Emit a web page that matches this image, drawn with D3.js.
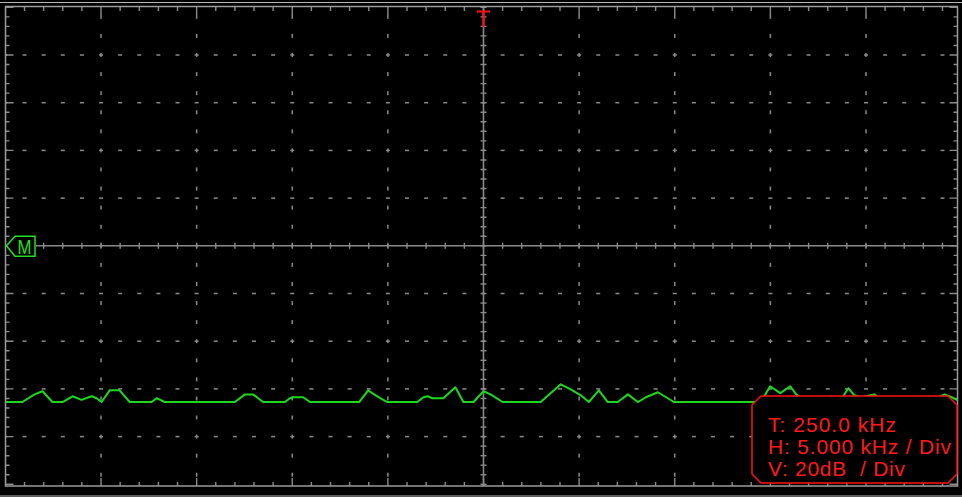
<!DOCTYPE html>
<html>
<head>
<meta charset="utf-8">
<script src="https://cdn.jsdelivr.net/npm/d3@7"></script>
<style>
  html, body { margin: 0; padding: 0; background: #000; }
  svg { display: block; }
</style>
</head>
<body>
<svg id="chart" width="962" height="497"></svg>
<script>
// ---- Data ----
const freqDomain = [225, 275];        // kHz across the screen (T 250 kHz, 5 kHz/div)
const dbDomain = [-100, 100];         // dB (20 dB/div), M marker at 0
const centerFreq = 250.0;             // T marker
const markerLevel = 0;                // M marker level

const traceFreq = [225.00, 225.89, 226.52, 226.94, 227.46, 227.99, 228.51, 228.98, 229.51, 229.77,
  230.03, 230.45, 230.97, 231.50, 232.65, 232.91, 233.33, 237.00, 237.53, 237.95,
  238.47, 239.62, 239.88, 240.04, 240.57, 240.93, 243.50, 243.97, 244.18, 244.60,
  244.97, 246.54, 246.86, 247.07, 247.33, 247.90, 248.53, 248.95, 249.48, 250.00,
  250.37, 251.00, 252.99, 254.04, 254.56, 255.09, 255.51, 256.03, 256.50, 257.02,
  257.55, 258.07, 258.49, 259.12, 259.96, 264.36, 264.68, 264.99, 265.52, 266.04,
  266.35, 266.88, 267.93, 268.19, 268.61, 269.08, 269.39, 269.76, 270.44, 270.97,
  271.23, 271.86, 272.49, 273.27, 274.11, 274.48, 275.00];
const traceDb = [-65.5, -65.5, -62.3, -61.0, -65.5, -65.5, -63.1, -64.6, -63.1, -63.9,
  -65.5, -60.6, -60.6, -65.5, -65.5, -63.9, -65.5, -65.5, -62.3, -62.3,
  -65.5, -65.5, -63.9, -63.5, -63.5, -65.5, -65.5, -60.6, -61.8, -63.9,
  -65.5, -65.5, -63.5, -63.1, -63.9, -63.9, -59.3, -65.5, -65.5, -61.0,
  -62.3, -65.5, -65.5, -58.1, -60.2, -62.7, -65.5, -60.6, -65.5, -65.5,
  -62.3, -65.5, -63.5, -61.4, -65.5, -65.5, -63.1, -58.9, -61.8, -58.9,
  -62.3, -65.5, -65.5, -63.1, -65.5, -59.7, -62.7, -63.5, -62.3, -65.5,
  -63.5, -63.5, -63.5, -65.5, -62.3, -63.5, -65.5];

const infoLines = ["T: 250.0 kHz", "H: 5.000 kHz / Div", "V: 20dB  / Div"];
const infoWidths = [128, 183, 137];

// ---- Drawing ----
const svg = d3.select("#chart");
const x = d3.scaleLinear().domain(freqDomain).range([5.4, 961.6]);
const y = d3.scaleLinear().domain(dbDomain).range([484.3, 7.3]);

const L = 5.5, R = 957.5, T = 7, B = 486;
const grid = "#8a8a8a";

svg.append("defs").append("clipPath").attr("id", "plot")
  .append("rect").attr("x", L).attr("y", T - 1).attr("width", R - L).attr("height", B - T + 1);

// outer lines
svg.append("line").attr("x1", 0).attr("x2", 962).attr("y1", 2.5).attr("y2", 2.5)
  .attr("stroke", "#b8b8b8").attr("stroke-width", 1.2);
svg.append("line").attr("x1", 0).attr("x2", 962).attr("y1", 496).attr("y2", 496)
  .attr("stroke", "#b8b8b8").attr("stroke-width", 1.2);

const g = svg.append("g").attr("clip-path", "url(#plot)");

const minorF = d3.range(freqDomain[0], freqDomain[1] + 0.001, 1);
const divF = d3.range(freqDomain[0], freqDomain[1] + 0.001, 5);
const minorDb = d3.range(dbDomain[0], dbDomain[1] + 0.001, 4);
const divDb = d3.range(dbDomain[0], dbDomain[1] + 0.001, 20);
const dotDb = d3.range(-96, 96.001, 8);

// dotted horizontal grid lines
divDb.filter(v => v !== 0 && v > dbDomain[0] && v < dbDomain[1]).forEach(v => {
  g.selectAll(null).data(minorF).enter().append("rect")
    .attr("x", d => x(d) - 2).attr("y", y(v) - 0.75).attr("width", 4).attr("height", 1.5)
    .attr("fill", grid);
});
// dotted vertical grid lines
divF.filter(v => v !== centerFreq && v > freqDomain[0] && v < freqDomain[1]).forEach(v => {
  g.selectAll(null).data(dotDb).enter().append("rect")
    .attr("x", x(v) - 0.75).attr("y", d => y(d) - 2).attr("width", 1.5).attr("height", 4)
    .attr("fill", grid);
});

// center axes
g.append("line").attr("x1", 36).attr("x2", R).attr("y1", y(markerLevel)).attr("y2", y(markerLevel))
  .attr("stroke", grid).attr("stroke-width", 1.6);
g.append("line").attr("x1", x(centerFreq)).attr("x2", x(centerFreq)).attr("y1", T).attr("y2", B)
  .attr("stroke", grid).attr("stroke-width", 1.6);
g.selectAll(null).data(minorF.filter(d => x(d) > 36)).enter().append("line")
  .attr("x1", d => x(d)).attr("x2", d => x(d))
  .attr("y1", y(markerLevel) - 3).attr("y2", y(markerLevel) + 3)
  .attr("stroke", grid).attr("stroke-width", 1.4);
g.selectAll(null).data(minorDb).enter().append("line")
  .attr("x1", x(centerFreq) - 3).attr("x2", x(centerFreq) + 3)
  .attr("y1", d => y(d)).attr("y2", d => y(d))
  .attr("stroke", grid).attr("stroke-width", 1.4);

// edge ticks
const tlen = (isDiv) => isDiv ? 8 : 4;
g.selectAll(null).data(minorF).enter().append("line")
  .attr("x1", d => x(d)).attr("x2", d => x(d))
  .attr("y1", T).attr("y2", d => T + tlen((d - freqDomain[0]) % 5 === 0))
  .attr("stroke", grid).attr("stroke-width", 1.4);
g.selectAll(null).data(minorF).enter().append("line")
  .attr("x1", d => x(d)).attr("x2", d => x(d))
  .attr("y1", B).attr("y2", d => B - tlen((d - freqDomain[0]) % 5 === 0))
  .attr("stroke", grid).attr("stroke-width", 1.4);
g.selectAll(null).data(minorDb).enter().append("line")
  .attr("x1", L).attr("x2", d => L + tlen(d % 20 === 0))
  .attr("y1", d => y(d)).attr("y2", d => y(d))
  .attr("stroke", grid).attr("stroke-width", 1.4);
g.selectAll(null).data(minorDb).enter().append("line")
  .attr("x1", R).attr("x2", d => R - tlen(d % 20 === 0))
  .attr("y1", d => y(d)).attr("y2", d => y(d))
  .attr("stroke", grid).attr("stroke-width", 1.4);

// frame
svg.append("rect").attr("x", L).attr("y", T - 0.5).attr("width", R - L).attr("height", B - T + 0.5)
  .attr("fill", "none").attr("stroke", "#9a9a9a").attr("stroke-width", 1.5);

// trace
const pts = traceFreq.map((f, i) => [f, traceDb[i]]);
g.append("path").datum(pts)
  .attr("d", d3.line().x(d => x(d[0])).y(d => y(d[1])))
  .attr("fill", "none").attr("stroke", "#1ed81e").attr("stroke-width", 2)
  .attr("stroke-linejoin", "round");

// trigger marker (T) at the top
const tx = x(centerFreq);
svg.append("path")
  .attr("d", `M${tx - 6.5},11.5 H${tx + 6.5} M${tx},11.5 V27`)
  .attr("stroke", "#ff1010").attr("stroke-width", 2.2).attr("fill", "none");

// M marker
const my = y(markerLevel);
svg.append("path")
  .attr("d", `M6.5,${my} L15,${my - 9.5} H35 V${my + 10.5} H15 Z`)
  .attr("fill", "#000").attr("stroke", "#22e022").attr("stroke-width", 1.5);
svg.append("text").attr("x", 24.5).attr("y", my + 8)
  .attr("text-anchor", "middle")
  .attr("font-family", "Liberation Sans Narrow, Liberation Sans, Arial, sans-serif")
  .attr("font-size", 21).attr("fill", "#22e022")
  .attr("textLength", 14).attr("lengthAdjust", "spacingAndGlyphs")
  .text("M");

// info box
const bx0 = 752, bx1 = 957, by0 = 396, by1 = 483, c = 9;
svg.append("path")
  .attr("d", `M${bx0 + c},${by0} H${bx1 - c} L${bx1},${by0 + c} V${by1 - c} L${bx1 - c},${by1} H${bx0 + c} L${bx0},${by1 - c} V${by0 + c} Z`)
  .attr("fill", "#000").attr("stroke", "#ff1010").attr("stroke-width", 1.5);
svg.selectAll(null).data(infoLines).enter().append("text")
  .attr("x", 768).attr("y", (d, i) => 432 + i * 22)
  .attr("font-family", "Liberation Sans, Arial, sans-serif")
  .attr("font-size", 21).attr("fill", "#ff1a1a")
  .attr("textLength", (d, i) => infoWidths[i]).attr("lengthAdjust", "spacing")
  .style("white-space", "pre")
  .text(d => d);
</script>
</body>
</html>
